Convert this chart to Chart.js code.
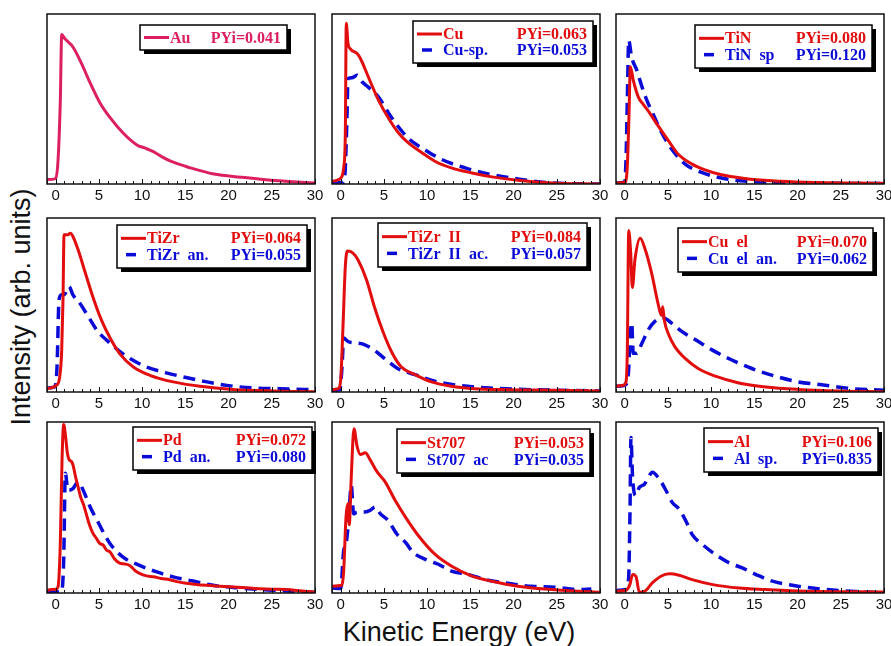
<!DOCTYPE html>
<html>
<head>
<meta charset="utf-8">
<title>Electron emission spectra</title>
<script src="https://cdn.jsdelivr.net/npm/chart.js@4.4.0/dist/chart.umd.min.js"></script>
<style>
  html, body { margin: 0; padding: 0; background: #fff; }
  body { width: 891px; height: 646px; position: relative; overflow: hidden; font-family: 'Liberation Sans', Arial, sans-serif; }
  canvas.panel { position: absolute; }
  #ytitle { position: absolute; left: 21px; top: 307px; transform: translate(-50%, -50%) rotate(-90deg);
            font-size: 27px; line-height: 1; white-space: nowrap; color: #111; }
  #xtitle { position: absolute; left: 459px; top: 619px; transform: translateX(-50%);
            font-size: 27px; line-height: 1; white-space: nowrap; color: #111; }
</style>
</head>
<body>
<div id="ytitle">Intensity (arb. units)</div>
<div id="xtitle">Kinetic Energy (eV)</div>

<script>
// x axis labels
const xTicks = [0, 5, 10, 15, 20, 25, 30];

const auEnergy = [-1, 0, 0.27, 0.54, 0.7, 1.05, 2.0, 3.0, 3.95, 5.1, 6.3, 7.8, 9.4, 10.3, 11.3, 12.3, 13.3, 15.6, 18.3, 21.4, 25.3, 30];
const auIntensity = [0.026, 0.032, 0.134, 0.49, 0.88, 0.856, 0.806, 0.708, 0.599, 0.48, 0.39, 0.30, 0.23, 0.212, 0.19, 0.16, 0.134, 0.095, 0.059, 0.04, 0.02, 0.006];

const cuEnergy = [-1, -0.23, 0.15, 0.35, 0.54, 0.65, 0.85, 1.1, 1.9, 2.3, 3.2, 4.4, 5.5, 6.7, 7.8, 9.4, 10.9, 12.8, 15.2, 17.5, 20.5, 24.4, 30];
const cuIntensity = [0.016, 0.026, 0.045, 0.095, 0.29, 0.945, 0.826, 0.796, 0.767, 0.737, 0.63, 0.49, 0.39, 0.30, 0.243, 0.184, 0.134, 0.095, 0.065, 0.042, 0.022, 0.006, 0.0];
const cuSpEnergy = [-1, 0.35, 0.54, 0.73, 0.85, 1.3, 1.9, 2.5, 3.2, 4.4, 5.9, 7.8, 9.8, 11.7, 14.4, 17.5, 20.5, 24.4, 30];
const cuSpIntensity = [0.006, 0.01, 0.095, 0.39, 0.62, 0.625, 0.64, 0.6, 0.57, 0.51, 0.39, 0.27, 0.20, 0.144, 0.095, 0.055, 0.03, 0.006, 0];

const tinEnergy = [-1, 0.04, 0.31, 0.5, 0.66, 1.0, 1.6, 2.2, 2.9, 3.9, 5.1, 6.2, 7.8, 9.3, 11.2, 13.9, 17.0, 20.9, 30];
const tinIntensity = [0.006, 0.01, 0.107, 0.40, 0.69, 0.61, 0.51, 0.466, 0.417, 0.34, 0.252, 0.175, 0.117, 0.083, 0.054, 0.033, 0.019, 0.01, 0.004];
const tinSpEnergy = [-1, 0, 0.16, 0.31, 0.47, 0.8, 1.4, 2.0, 2.55, 3.3, 4.3, 5.45, 7.0, 8.9, 11.2, 14.3, 19.0, 30];
const tinSpIntensity = [0.006, 0.01, 0.146, 0.495, 0.845, 0.748, 0.67, 0.573, 0.495, 0.41, 0.30, 0.204, 0.117, 0.068, 0.035, 0.016, 0.008, 0.002];

const tizrEnergy = [-1, 0.08, 0.47, 0.7, 0.85, 0.97, 1.43, 1.7, 2.0, 2.6, 3.4, 4.3, 5.3, 6.3, 7.4, 9.0, 10.9, 13.6, 16.7, 20.5, 25.2, 30];
const tizrIntensity = [0.019, 0.038, 0.087, 0.24, 0.53, 0.904, 0.904, 0.913, 0.894, 0.817, 0.69, 0.548, 0.413, 0.31, 0.221, 0.144, 0.096, 0.058, 0.033, 0.015, 0.006, 0.002];
const tizrAnEnergy = [-1, -0.1, 0.16, 0.39, 0.66, 1.05, 1.55, 2.0, 2.8, 3.9, 4.9, 5.9, 7.0, 8.6, 10.5, 12.8, 15.1, 17.5, 19.8, 22.9, 26, 30];
const tizrAnIntensity = [0.023, 0.029, 0.144, 0.53, 0.558, 0.562, 0.606, 0.558, 0.51, 0.423, 0.346, 0.298, 0.25, 0.192, 0.144, 0.11, 0.083, 0.058, 0.038, 0.023, 0.019, 0.013];

const tizr2Energy = [-1, -0.3, 0.0, 0.27, 0.54, 0.78, 1.4, 2.0, 3.0, 3.9, 4.9, 5.9, 7.0, 8.6, 10.5, 12.8, 15.5, 19.4, 25.2, 30];
const tizr2Intensity = [0.013, 0.019, 0.067, 0.375, 0.72, 0.81, 0.80, 0.76, 0.644, 0.49, 0.346, 0.23, 0.145, 0.1, 0.058, 0.033, 0.019, 0.013, 0.01, 0.006];
const tizr2AcEnergy = [-1, -0.1, 0.16, 0.35, 0.85, 1.6, 2.6, 3.9, 5.1, 6.6, 8.6, 10.9, 13.6, 16.7, 19.8, 25.2, 30];
const tizr2AcIntensity = [0.01, 0.013, 0.144, 0.31, 0.29, 0.283, 0.275, 0.24, 0.192, 0.135, 0.1, 0.062, 0.038, 0.025, 0.017, 0.01, 0.006];

const cuelEnergy = [-1, -0.15, 0.16, 0.31, 0.47, 0.7, 0.89, 1.2, 1.8, 2.36, 3.1, 3.9, 4.25, 4.4, 4.6, 5.1, 5.8, 7.0, 8.5, 10.5, 13.2, 16.3, 20.1, 24.8, 30];
const cuelIntensity = [0.033, 0.039, 0.058, 0.242, 0.928, 0.80, 0.60, 0.764, 0.884, 0.822, 0.687, 0.50, 0.44, 0.49, 0.41, 0.329, 0.261, 0.193, 0.135, 0.091, 0.052, 0.029, 0.015, 0.006, 0.002];
const cuelAnEnergy = [-1, 0.04, 0.43, 0.62, 0.81, 1.0, 1.4, 2.0, 2.75, 3.5, 4.5, 5.4, 6.6, 8.2, 10.1, 12.4, 14.7, 17.0, 20.1, 23.2, 26.3, 30];
const cuelAnIntensity = [0.033, 0.039, 0.106, 0.30, 0.397, 0.222, 0.222, 0.28, 0.358, 0.406, 0.426, 0.397, 0.348, 0.30, 0.242, 0.184, 0.135, 0.097, 0.058, 0.039, 0.019, 0.01];

const pdEnergy = [-1, -0.5, 0, 0.27, 0.54, 0.74, 0.93, 1.16, 1.35, 1.55, 1.8, 2.0, 2.3, 2.6, 2.9, 3.2, 3.5, 3.9, 4.3, 4.7, 5.1, 5.5, 5.9, 6.3, 6.8, 7.4, 8.0, 8.6, 9.2, 9.7, 10.5, 11.3, 12.2, 13.2, 14.2, 15.1, 16.3, 17.5, 19, 20.5, 22, 23.6, 25, 26.7, 28.5, 30];
const pdIntensity = [0.016, 0.02, 0.022, 0.035, 0.29, 0.78, 0.986, 0.91, 0.82, 0.78, 0.77, 0.75, 0.68, 0.62, 0.56, 0.52, 0.47, 0.40, 0.35, 0.32, 0.29, 0.28, 0.25, 0.24, 0.20, 0.175, 0.17, 0.16, 0.13, 0.115, 0.10, 0.095, 0.085, 0.078, 0.065, 0.057, 0.05, 0.045, 0.04, 0.035, 0.03, 0.025, 0.022, 0.02, 0.012, 0.006];
const pdAnEnergy = [-1, 0.66, 0.93, 1.12, 1.43, 2.0, 2.6, 3.2, 3.9, 4.9, 6.3, 7.8, 9.7, 11.7, 13.6, 15.9, 18.2, 21.3, 25.2, 30];
const pdAnIntensity = [0.006, 0.006, 0.19, 0.70, 0.60, 0.61, 0.65, 0.60, 0.513, 0.415, 0.288, 0.21, 0.162, 0.123, 0.094, 0.07, 0.045, 0.029, 0.016, 0.004];

const st707Energy = [-1, 0.15, 0.35, 0.62, 0.85, 1.0, 1.23, 1.54, 1.9, 2.3, 2.85, 3.4, 4.2, 5.15, 6.3, 7.5, 9.0, 10.9, 12.8, 15.2, 17.5, 20.5, 24.4, 30];
const st707Intensity = [0.04, 0.045, 0.128, 0.444, 0.523, 0.40, 0.68, 0.96, 0.858, 0.81, 0.82, 0.78, 0.71, 0.65, 0.542, 0.444, 0.335, 0.227, 0.158, 0.099, 0.069, 0.04, 0.02, 0.004];
const st707AcEnergy = [-1, 0.0, 0.35, 0.62, 0.92, 1.23, 1.5, 1.9, 2.65, 3.4, 4.0, 4.6, 5.5, 6.5, 7.5, 8.4, 9.8, 11.3, 12.8, 14.8, 16.7, 19.0, 22.1, 24.8, 27.5, 29];
const st707AcIntensity = [0.03, 0.026, 0.247, 0.286, 0.424, 0.63, 0.463, 0.473, 0.473, 0.483, 0.503, 0.463, 0.424, 0.345, 0.296, 0.237, 0.197, 0.168, 0.128, 0.108, 0.079, 0.059, 0.039, 0.034, 0.02, 0.024];

const alEnergy = [-1, 0.15, 0.6, 0.92, 1.3, 1.7, 2.3, 3.2, 4.2, 5.15, 6.3, 7.8, 10.2, 13.2, 16.3, 20.9, 30];
const alIntensity = [0.01, 0.016, 0.049, 0.108, 0.098, 0.005, 0.01, 0.059, 0.098, 0.112, 0.104, 0.078, 0.049, 0.029, 0.02, 0.01, 0.006];
const alSpEnergy = [-1, 0.15, 0.46, 0.62, 0.73, 0.92, 1.23, 1.7, 2.3, 2.85, 3.2, 4.0, 4.8, 5.5, 6.3, 7.1, 7.8, 9.0, 10.5, 12.1, 13.6, 15.2, 17.1, 19.4, 21.7, 24.8, 27.8, 30];
const alSpIntensity = [0.014, 0.02, 0.088, 0.48, 0.91, 0.676, 0.57, 0.618, 0.637, 0.686, 0.706, 0.667, 0.598, 0.53, 0.49, 0.42, 0.343, 0.284, 0.225, 0.176, 0.147, 0.108, 0.069, 0.045, 0.029, 0.014, 0.006, 0];

const RED = '#e20d0d';
const BLUE = '#0b0bd8';
const CRIMSON = '#dc1f5f';

function solid(label, pyi, xs, ys, color) {
    return { label, pyi, data: xs.map((x, i) => ({ x, y: ys[i] })),
             borderColor: color, backgroundColor: color, borderWidth: 3 };
}
function dashed(label, pyi, xs, ys) {
    return { label, pyi, data: xs.map((x, i) => ({ x, y: ys[i] })),
             borderColor: BLUE, backgroundColor: BLUE, borderWidth: 3.5, borderDash: [12, 7] };
}

// plot boxes in page pixels, legend box relative to plot area [x, y, w, h]
const colLeft = [47, 332, 616];
const rowTop = [14, 218, 422];
const rowHeight = [170, 174, 171];
const plotWidth = 268;

const panels = [
    { col: 0, row: 0, legend: [93, 11, 147, 25], sets: [solid('Au', '0.041', auEnergy, auIntensity, CRIMSON)] },
    { col: 1, row: 0, legend: [81, 7, 180, 42], sets: [solid('Cu', '0.063', cuEnergy, cuIntensity, RED), dashed('Cu-sp.', '0.053', cuSpEnergy, cuSpIntensity)] },
    { col: 2, row: 0, legend: [79, 11, 177, 43], sets: [solid('TiN', '0.080', tinEnergy, tinIntensity, RED), dashed('TiN  sp', '0.120', tinSpEnergy, tinSpIntensity)] },
    { col: 0, row: 1, legend: [70, 7, 190, 43], sets: [solid('TiZr', '0.064', tizrEnergy, tizrIntensity, RED), dashed('TiZr  an.', '0.055', tizrAnEnergy, tizrAnIntensity)] },
    { col: 1, row: 1, legend: [46, 5, 209, 44], sets: [solid('TiZr  II', '0.084', tizr2Energy, tizr2Intensity, RED), dashed('TiZr  II  ac.', '0.057', tizr2AcEnergy, tizr2AcIntensity)] },
    { col: 2, row: 1, legend: [62, 10, 195, 44], sets: [solid('Cu  el', '0.070', cuelEnergy, cuelIntensity, RED), dashed('Cu  el  an.', '0.062', cuelAnEnergy, cuelAnIntensity)] },
    { col: 0, row: 2, legend: [86, 5, 179, 43], sets: [solid('Pd', '0.072', pdEnergy, pdIntensity, RED), dashed('Pd  an.', '0.080', pdAnEnergy, pdAnIntensity)] },
    { col: 1, row: 2, legend: [65, 7, 193, 44], sets: [solid('St707', '0.053', st707Energy, st707Intensity, RED), dashed('St707  ac', '0.035', st707AcEnergy, st707AcIntensity)] },
    { col: 2, row: 2, legend: [88, 6, 174, 44], sets: [solid('Al', '0.106', alEnergy, alIntensity, RED), dashed('Al  sp.', '0.835', alSpEnergy, alSpIntensity)] }
];

const PAD = 12;
const PAD_TOP = 4;
const AXIS_H = 26;

// box round the plot plus small inward ticks at every eV
const frame = {
    id: 'frame',
    afterDraw(chart) {
        const { ctx, chartArea: a } = chart;
        const x = chart.scales.x;
        ctx.save();
        ctx.strokeStyle = '#111';
        ctx.lineWidth = 1.5;
        ctx.strokeRect(a.left, a.top, a.right - a.left, a.bottom - a.top);
        ctx.lineWidth = 1;
        ctx.beginPath();
        for (let v = Math.ceil(x.min); v <= x.max; v++) {
            const px = Math.round(x.getPixelForValue(v)) + 0.5;
            const len = v % 5 === 0 ? 5 : 3;
            ctx.moveTo(px, a.bottom);
            ctx.lineTo(px, a.bottom - len);
        }
        ctx.stroke();
        ctx.restore();
    }
};

// framed legend with drop shadow
const boxLegend = {
    id: 'boxLegend',
    afterDraw(chart, args, opts) {
        const { ctx, chartArea } = chart;
        const [bx, by, bw, bh] = opts.box;
        const x = chartArea.left + bx;
        const y = chartArea.top + by;
        ctx.save();
        ctx.fillStyle = '#000';
        ctx.fillRect(x + 4, y + 4, bw, bh);
        ctx.fillStyle = '#fff';
        ctx.fillRect(x, y, bw, bh);
        ctx.strokeStyle = '#000';
        ctx.lineWidth = 1.5;
        ctx.strokeRect(x, y, bw, bh);

        const sets = chart.data.datasets;
        sets.forEach((ds, i) => {
            const ry = sets.length === 1 ? y + bh / 2 : y + bh * (i === 0 ? 0.31 : 0.69);
            ctx.strokeStyle = ds.borderColor;
            ctx.lineWidth = ds.borderWidth;
            ctx.setLineDash([]);
            ctx.beginPath();
            if (ds.borderDash) {
                ctx.moveTo(x + 9, ry);
                ctx.lineTo(x + 19, ry);
            } else {
                ctx.moveTo(x + 4, ry);
                ctx.lineTo(x + 29, ry);
            }
            ctx.stroke();
            ctx.fillStyle = ds.borderColor;
            ctx.font = "bold 16px 'Liberation Serif', 'Times New Roman', serif";
            ctx.textBaseline = 'middle';
            ctx.textAlign = 'left';
            ctx.fillText(ds.label, x + 30, ry + 1);
            ctx.textAlign = 'right';
            ctx.fillText('PYi=' + ds.pyi, x + bw - 6, ry + 1);
        });
        ctx.restore();
    }
};

panels.forEach(p => {
    const canvas = document.createElement('canvas');
    const w = plotWidth + 2 * PAD;
    const h = PAD_TOP + rowHeight[p.row] + AXIS_H;
    canvas.className = 'panel';
    canvas.width = w;
    canvas.height = h;
    canvas.style.width = w + 'px';
    canvas.style.height = h + 'px';
    canvas.style.left = (colLeft[p.col] - PAD) + 'px';
    canvas.style.top = (rowTop[p.row] - PAD_TOP) + 'px';
    document.body.appendChild(canvas);

    new Chart(canvas, {
        type: 'scatter',
        data: { datasets: p.sets },
        options: {
            responsive: false,
            animation: false,
            events: [],
            showLine: true,
            elements: {
                point: { radius: 0 },
                line: { cubicInterpolationMode: 'monotone', borderCapStyle: 'butt' }
            },
            layout: { padding: { left: PAD, right: PAD, top: PAD_TOP, bottom: 0 } },
            plugins: {
                legend: { display: false },
                tooltip: { enabled: false },
                boxLegend: { box: p.legend }
            },
            scales: {
                x: {
                    type: 'linear',
                    min: -1,
                    max: 30,
                    afterBuildTicks: s => { s.ticks = xTicks.map(v => ({ value: v })); },
                    afterFit: s => { s.height = AXIS_H; },
                    ticks: {
                        color: '#111',
                        font: { family: "'Liberation Sans', Arial, sans-serif", size: 15 },
                        padding: 3,
                        maxRotation: 0,
                        autoSkip: false
                    },
                    grid: { display: false, drawTicks: false },
                    border: { display: false }
                },
                y: { display: false, min: 0, max: 1 }
            }
        },
        plugins: [frame, boxLegend]
    });
});
</script>
</body>
</html>
